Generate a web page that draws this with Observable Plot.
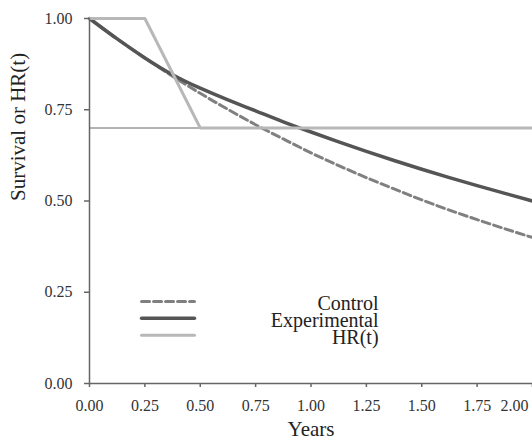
<!DOCTYPE html>
<html>
<head>
<meta charset="utf-8">
<script src="https://cdn.jsdelivr.net/npm/d3@7"></script>
<script src="https://cdn.jsdelivr.net/npm/@observablehq/plot@0.6"></script>
<style>
  html, body { margin: 0; padding: 0; background: #fff; }
  svg { display: block; }
  svg, svg text { font-family: "Liberation Serif", "Times New Roman", serif !important; }
</style>
</head>
<body>
<div id="chart"></div>
<script>
// Values
const years = [0, 0.125, 0.25, 0.375, 0.5, 0.625, 0.75, 0.875, 1.0, 1.125, 1.25, 1.375, 1.5, 1.625, 1.75, 1.875, 2.0];
const controlSurv = [1.00, 0.944, 0.892, 0.842, 0.795, 0.751, 0.709, 0.670, 0.632, 0.597, 0.564, 0.533, 0.503, 0.475, 0.449, 0.424, 0.400];
const experimentalSurv = [1.00, 0.944, 0.892, 0.846, 0.809, 0.777, 0.747, 0.717, 0.689, 0.662, 0.636, 0.611, 0.587, 0.564, 0.542, 0.521, 0.500];
const hrYears = [0, 0.25, 0.5, 2.0];
const hrValues = [1.0, 1.0, 0.7, 0.7];
const refLine = [0.7];
const xTicks = [0, 0.25, 0.5, 0.75, 1.0, 1.25, 1.5, 1.75, 2.0];
const yTicks = [0, 0.25, 0.5, 0.75, 1.0];
const seriesNames = ["Control", "Experimental", "HR(t)"];

const control = years.map((t, i) => ({t, s: controlSurv[i]}));
const experimental = years.map((t, i) => ({t, s: experimentalSurv[i]}));
const hr = hrYears.map((t, i) => ({t, s: hrValues[i]}));

const FONT = "Liberation Serif";
const cControl = "#808080", cExp = "#555555", cHR = "#b8b8b8", cAxis = "#666666";
const styles = [
  {stroke: cControl, strokeWidth: 3, strokeDasharray: "8,4"},
  {stroke: cExp, strokeWidth: 3.5},
  {stroke: cHR, strokeWidth: 3}
];
// legend placement (in data space)
const legX1 = 0.235, legX2 = 0.474, legTextX = 1.305, legY0 = 0.225, legStep = 0.0465;
const legend = seriesNames.map((name, i) => ({name, i, y: legY0 - i * legStep}));

const fmt = d3.format(".2f");

const plot = Plot.plot({
  width: 532,
  height: 444,
  marginLeft: 89,
  marginRight: 0,
  marginTop: 18,
  marginBottom: 61,
  style: {fontFamily: FONT, background: "#fff", overflow: "visible"},
  x: {domain: [0, 2]},
  y: {domain: [0, 1]},
  marks: [
    Plot.ruleY(refLine, {stroke: cAxis, strokeWidth: 1}),
    Plot.line(control, {x: "t", y: "s", curve: "natural", ...styles[0]}),
    Plot.line(experimental, {x: "t", y: "s", curve: "natural", ...styles[1]}),
    Plot.line(hr, {x: "t", y: "s", ...styles[2]}),
    // legend
    ...legend.map(d => Plot.line([{t: legX1, s: d.y}, {t: legX2, s: d.y}], {x: "t", y: "s", ...styles[d.i]})),
    Plot.text(legend, {x: () => legTextX, y: "y", text: "name", textAnchor: "end", fontSize: 20, fontFamily: FONT, dy: 2, fill: "#222"}),
    // axes
    Plot.ruleX([0], {stroke: cAxis, strokeWidth: 1.5}),
    Plot.ruleY([0], {stroke: cAxis, strokeWidth: 1.5}),
    Plot.axisY({ticks: yTicks, tickFormat: fmt, tickSize: 5, tickPadding: 12, fontSize: 16, fontFamily: FONT, stroke: cAxis, strokeWidth: 1.5, fill: "#333", label: null}),
    Plot.axisX({ticks: xTicks, tickFormat: () => "", tickSize: 4, stroke: cAxis, strokeWidth: 1.5, label: null}),
    Plot.axisX({ticks: xTicks.slice(0, -1), tickFormat: fmt, tickSize: 0, tickPadding: 16, fontSize: 16, fontFamily: FONT, fill: "#333", label: null}),
    Plot.axisX({ticks: xTicks.slice(-1), tickFormat: fmt, tickSize: 0, tickPadding: 16, fontSize: 16, fontFamily: FONT, fill: "#333", textAnchor: "end", dx: -4, label: null}),
    Plot.text(["Survival or HR(t)"], {frameAnchor: "left", rotate: -90, dx: -71, fontSize: 21, fontFamily: FONT, fill: "#222"}),
    Plot.text(["Years"], {frameAnchor: "bottom", dy: 52, fontSize: 21, fontFamily: FONT, fill: "#222"})
  ]
});
document.getElementById("chart").appendChild(plot);
</script>
</body>
</html>
